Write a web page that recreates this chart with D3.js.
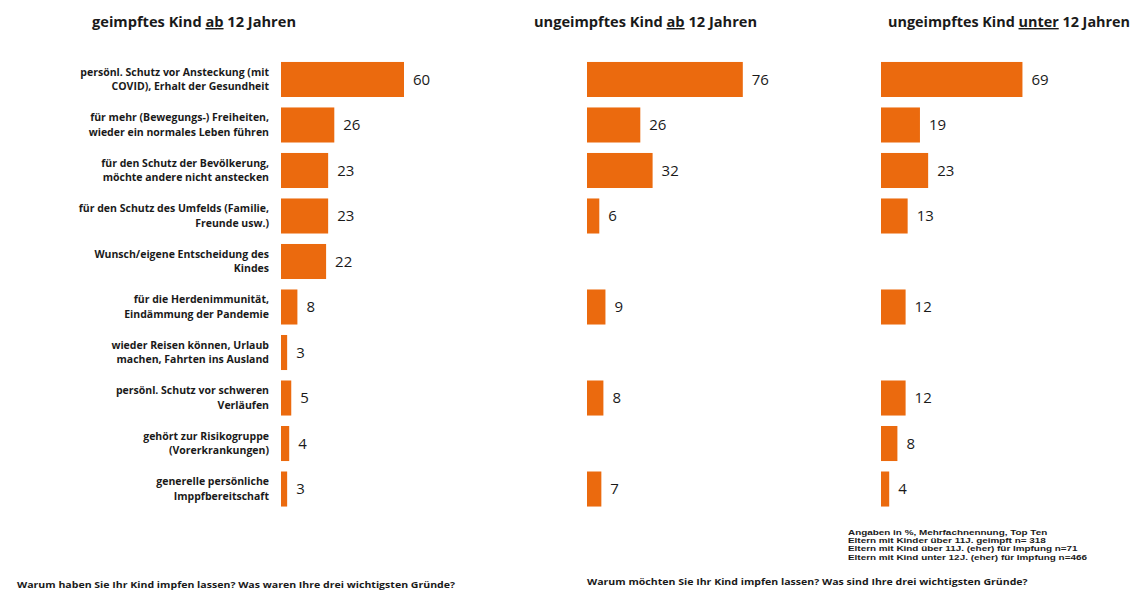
<!DOCTYPE html>
<meta charset="utf-8">
<script src="https://d3js.org/d3.v7.min.js"></script>
<style>
  body { margin: 0; background: #fff; }
  text { font-family: "Open Sans", sans-serif; fill: #1a1a1a; }
</style>
<svg id="chart" width="1137" height="590"></svg>
<script>

// categories (line breaks marked with "|")
var categories = [
  "persönl. Schutz vor Ansteckung (mit|COVID), Erhalt der Gesundheit",
  "für mehr (Bewegungs-) Freiheiten,|wieder ein normales Leben führen",
  "für den Schutz der Bevölkerung,|möchte andere nicht anstecken",
  "für den Schutz des Umfelds (Familie,|Freunde usw.)",
  "Wunsch/eigene Entscheidung des|Kindes",
  "für die Herdenimmunität,|Eindämmung der Pandemie",
  "wieder Reisen können, Urlaub|machen, Fahrten ins Ausland",
  "persönl. Schutz vor schweren|Verläufen",
  "gehört zur Risikogruppe|(Vorerkrankungen)",
  "generelle persönliche|Imppfbereitschaft"
];

// values per panel (null = not asked / no bar)
var geimpftAb12   = [60, 26, 23, 23, 22, 8, 3, 5, 4, 3];
var ungeimpftAb12 = [76, 26, 32, 6, null, 9, null, 8, null, 7];
var ungeimpftU12  = [69, 19, 23, 13, null, 12, null, 12, 8, 4];

var panelTitles = [
  ["geimpftes Kind ", "ab", " 12 Jahren"],
  ["ungeimpftes Kind ", "ab", " 12 Jahren"],
  ["ungeimpftes Kind ", "unter", " 12 Jahren"]
];

var notes = [
  "Angaben in %, Mehrfachnennung, Top Ten",
  "Eltern mit Kinder über 11J. geimpft n= 318",
  "Eltern mit Kind über 11J. (eher) für Impfung n=71",
  "Eltern mit Kind unter 12J. (eher) für Impfung n=466"
];

var questions = [
  "Warum haben Sie Ihr Kind impfen lassen? Was waren Ihre drei wichtigsten Gründe?",
  "Warum möchten Sie Ihr Kind impfen lassen? Was sind Ihre drei wichtigsten Gründe?"
];

var barColor = "#eb6a0e";
var svg = d3.select("#chart");

// stretch a text horizontally (the original uses a narrower font)
function stretch(sel, f) {
  sel.each(function() {
    var len = this.getComputedTextLength();
    d3.select(this).attr("textLength", len * f).attr("lengthAdjust", "spacingAndGlyphs");
  });
}

// shared vertical band scale
var y = d3.scaleBand()
  .domain(d3.range(categories.length))
  .range([56.5, 512])
  .paddingInner(0.23)
  .paddingOuter(0.12);

// shared value scale (px per percent)
var x = d3.scaleLinear().domain([0, 100]).range([0, 205]);

var panels = [
  {data: geimpftAb12,   left: 281, titleX: 92,  titleW: 204},
  {data: ungeimpftAb12, left: 587, titleX: 534, titleW: 223},
  {data: ungeimpftU12,  left: 881, titleX: 888, titleW: 242}
];

panels.forEach(function(p, pi) {
  var g = svg.append("g").attr("transform", "translate(" + p.left + ",0)");

  var rows = p.data.map(function(v, i) { return {i: i, v: v}; })
    .filter(function(d) { return d.v !== null; });

  g.selectAll("rect")
    .data(rows)
    .enter().append("rect")
      .attr("x", 0)
      .attr("y", function(d) { return y(d.i); })
      .attr("width", function(d) { return x(d.v); })
      .attr("height", y.bandwidth())
      .attr("fill", barColor);

  g.selectAll("text.val")
    .data(rows)
    .enter().append("text")
      .attr("class", "val")
      .attr("x", function(d) { return x(d.v) + 9; })
      .attr("y", function(d) { return y(d.i) + y.bandwidth() / 2; })
      .attr("dy", "0.36em")
      .style("font-size", "15px")
      .text(function(d) { return d.v; });

  // title with underlined middle word
  var t = svg.append("text")
    .attr("x", p.titleX)
    .attr("y", 27)
    .attr("textLength", p.titleW)
    .attr("lengthAdjust", "spacingAndGlyphs")
    .style("font-size", "14px")
    .style("font-weight", "bold");
  panelTitles[pi].forEach(function(s, k) {
    t.append("tspan")
      .style("text-decoration", k === 1 ? "underline" : "none")
      .text(s);
  });
});

// category labels (left panel only)
var lab = svg.append("g").attr("transform", "translate(269,0)");
categories.forEach(function(c, i) {
  var lines = c.split("|");
  var cy = y(i) + y.bandwidth() / 2;
  var txt = lab.append("text")
    .attr("text-anchor", "end")
    .style("font-size", "10.5px")
    .style("font-weight", "bold");
  lines.forEach(function(l, k) {
    txt.append("tspan")
      .attr("x", 0)
      .attr("y", cy + (k - (lines.length - 1) / 2) * 14.5)
      .attr("dy", "0.35em")
      .text(l);
  });
});

// notes bottom right: tightly packed lines, compact font stretched to the original width
var noteG = svg.append("g");
noteG.selectAll("text")
  .data(notes)
  .enter().append("text")
    .attr("x", 0)
    .attr("y", function(d, i) { return 534.6 + i * 8.4; })
    .style("font-family", "'Liberation Sans', Arial, sans-serif")
    .style("font-size", "7.1px")
    .style("font-weight", "bold")
    .text(function(d) { return d; });
var longest = d3.max(noteG.selectAll("text").nodes(), function(n) { return n.getComputedTextLength(); });
noteG.attr("transform", "translate(848,0) scale(" + (239 / longest) + ",1)");

// questions
svg.append("text").attr("x", 17).attr("y", 588)
  .style("font-size", "9.6px").style("font-weight", "bold")
  .text(questions[0])
  .call(stretch, 1.1);
svg.append("text").attr("x", 587).attr("y", 585)
  .style("font-size", "9.6px").style("font-weight", "bold")
  .text(questions[1])
  .call(stretch, 1.1);

</script>
